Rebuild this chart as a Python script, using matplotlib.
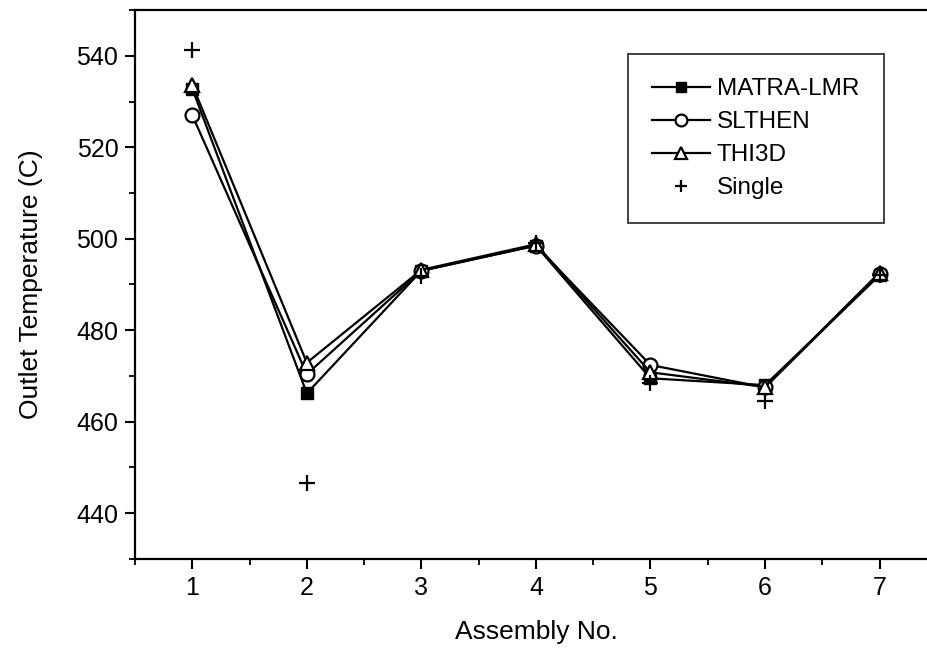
import numpy as np
import matplotlib
matplotlib.use("Agg")
import matplotlib.pyplot as plt
from matplotlib.ticker import MultipleLocator

assembly = [1, 2, 3, 4, 5, 6, 7]
matra_lmr = [532.8, 466.2, 493.0, 498.5, 469.5, 468.0, 492.0]
slthen = [527.0, 470.4, 493.0, 498.5, 472.4, 467.5, 492.3]
thi3d = [533.6, 472.9, 493.2, 498.8, 470.8, 467.6, 492.6]
single = [541.2, 446.7, 491.8, 499.0, 468.4, 464.5, 492.0]

plt.rcParams['font.family'] = ['Liberation Sans', 'DejaVu Sans']

fig = plt.figure(figsize=(9.28, 6.54), dpi=100)
ax = fig.add_axes([0.1455, 0.1453, 0.864, 0.8394])

ax.plot(assembly, matra_lmr, '-s', color='black', lw=1.6, ms=9,
        mfc='black', label='MATRA-LMR')
ax.plot(assembly, slthen, '-o', color='black', lw=1.6, ms=10,
        mfc='white', mew=1.6, label='SLTHEN')
ax.plot(assembly, thi3d, '-^', color='black', lw=1.6, ms=10,
        mfc='white', mew=1.6, label='THI3D')
ax.plot(assembly, single, '+', color='black', ms=11, mew=1.6,
        label='Single')

ax.set_xlim(0.5, 7.5)
ax.set_ylim(430, 550)
ax.xaxis.set_major_locator(MultipleLocator(1))
ax.xaxis.set_minor_locator(MultipleLocator(0.5))
ax.yaxis.set_major_locator(MultipleLocator(20))
ax.yaxis.set_minor_locator(MultipleLocator(10))
ax.tick_params(which='major', direction='out', length=7, width=1.5,
               labelsize=18, pad=5)
ax.tick_params(which='minor', direction='out', length=4, width=1.3)
for s in ax.spines.values():
    s.set_linewidth(1.6)

ax.set_xlabel('Assembly No.', fontsize=19)
ax.set_ylabel('Outlet Temperature (C)', fontsize=19)
ax.xaxis.set_label_coords(0.5, -0.111)
ax.yaxis.set_label_coords(-0.115, 0.5)

leg = ax.legend(loc='upper left', bbox_to_anchor=(0.615, 0.92),
                fontsize=17.5, frameon=True, fancybox=False,
                edgecolor='black', handlelength=2.35, handletextpad=0.3,
                labelspacing=0.45, borderpad=1.0, borderaxespad=0,
                markerscale=0.85)
leg.get_frame().set_linewidth(1.3)

fig.savefig('out.png', dpi=100)
